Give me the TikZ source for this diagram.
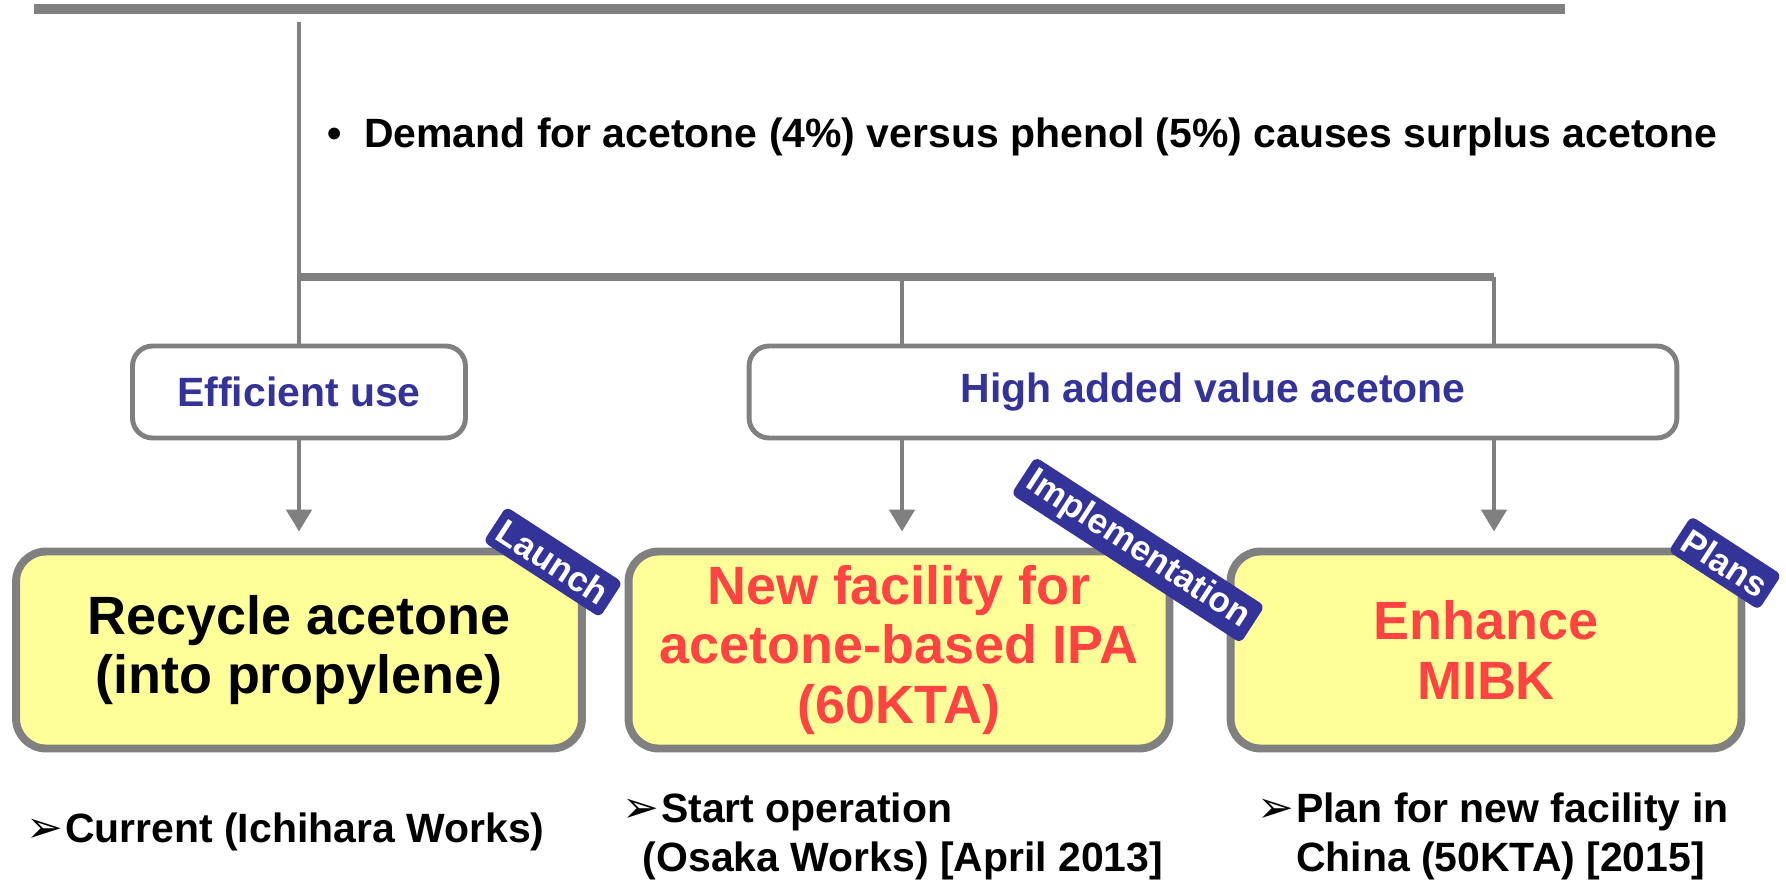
\documentclass[tikz,border=0pt]{standalone}
\usepackage{fontspec}
\setmainfont{Liberation Sans}
\newfontfamily\dingfont{DejaVu Sans}
\usepackage{xcolor}
\usetikzlibrary{arrows.meta}
\definecolor{linegray}{HTML}{808080}
\definecolor{tagblue}{HTML}{333399}
\definecolor{goalyellow}{HTML}{FFFF99}
\definecolor{goalred}{HTML}{FF4343}
\newcommand{\arrowbullet}{{\dingfont\fontsize{25}{28}\selectfont ➢}}

\begin{document}
\begin{tikzpicture}[line join=round,x=0.02cm,y=-0.02cm,
	gline/.style={draw=linegray,line width=2.8pt},
	conn/.style={gline,-{Triangle[length=0.44cm,width=0.5cm]},shorten >=0.32cm},
	headbox/.style={draw=linegray,line width=2.8pt,rounded corners=0.4cm,fill=white,text=tagblue,
		minimum height=1.84cm,font=\fontsize{23.3}{28}\selectfont\bfseries},
	goalbox/.style={draw=linegray,line width=4.5pt,rounded corners=0.6cm,fill=goalyellow,
		minimum height=3.94cm,inner ysep=2pt,align=center,font=\fontsize{30.7}{34}\selectfont\bfseries},
	tagbox/.style={fill=tagblue,text=white,rounded corners=0.12cm,rotate=-33,inner xsep=0.14cm,
		minimum height=0.84cm,font=\fontsize{20}{22}\selectfont\bfseries},
	note/.style={anchor=west,align=left,inner sep=0pt,font=\fontsize{23.3}{27.9}\selectfont\bfseries}]
	\useasboundingbox (0,0) rectangle (1786,883);
	\coordinate (topl) at (34,9);
	\coordinate (topr) at (1565,9);
	\coordinate (trunk) at (299,22);
	\coordinate (fork) at (299,277);
	\coordinate (forkm) at (902,277);
	\coordinate (forkr) at (1494,277);
	\node[headbox,minimum width=6.66cm] (eff) at (299,392) {Efficient use};
	\node[headbox,minimum width=18.56cm] (hav) at (1213,392) {High added value acetone};
	\node[goalbox,minimum width=11.32cm] (rec) at (299,650) {Recycle acetone\\(into propylene)};
	\node[goalbox,minimum width=10.82cm,text=goalred] (ipa) at (899,650) {New facility for\\acetone-based IPA\\(60KTA)};
	\node[goalbox,minimum width=10.22cm,text=goalred] (mibk) at (1486,650) {Enhance\\MIBK};
	\node[note] (demand) at (327,137) {\textbullet\hspace{0.55em}Demand for acetone (4\%) versus phenol (5\%) causes surplus acetone};
	\node[note] (ichihara) at (26,832) {\arrowbullet\hspace{0.05em}Current (Ichihara Works)};
	\node[note] (osaka) at (622,836) {\arrowbullet\hspace{0.05em}Start operation\\\hspace*{0.5em}(Osaka Works) [April 2013]};
	\node[note] (china) at (1257,836) {\arrowbullet\hspace{0.05em}Plan for new facility in\\\phantom{\arrowbullet\hspace{0.05em}}China (50KTA) [2015]};
	\draw [linegray,line width=5.7pt] (topl) -- (topr);
	\draw [gline] (trunk) -- (trunk |- eff.north);
	\draw [linegray,line width=4.6pt] (fork) -- (forkr);
	\draw [gline] (forkm) -- (forkm |- hav.north);
	\draw [gline] (forkr) -- (forkr |- hav.north);
	\draw [conn] (eff) -- (rec);
	\draw [conn] (forkm |- hav.south) -- (forkm |- ipa.north);
	\draw [conn] (forkr |- hav.south) -- (forkr |- mibk.north);
	\node[tagbox] (launch) at (553,562) {Launch};
	\node[tagbox] (impl) at (1138,550) {Implementation};
	\node[tagbox] (plans) at (1725,563) {Plans};
\end{tikzpicture}
\end{document}
